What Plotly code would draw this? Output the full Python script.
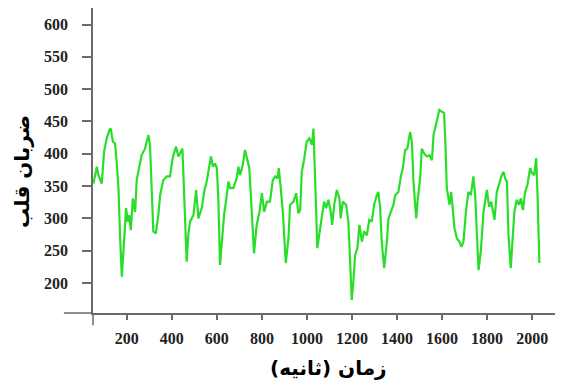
import plotly.graph_objects as go

time_s = [52, 67, 74, 89, 99, 111, 123, 129, 138, 148, 155, 163, 170, 178, 185, 197, 204, 211, 218, 227,
          237, 244, 251, 266, 281, 296, 303, 311, 318, 329, 340, 348, 362, 378, 392, 400, 407, 419, 429, 437,
          447, 451, 459, 466, 473, 481, 496, 508, 518, 533, 545, 555, 562, 574, 582, 592, 600, 607, 614, 622,
          632, 644, 651, 659, 673, 688, 696, 703, 715, 725, 733, 744, 755, 765, 777, 789, 800, 810, 822, 836,
          848, 859, 869, 875, 881, 893, 906, 918, 925, 940, 952, 962, 970, 977, 987, 999, 1011, 1022, 1029, 1035,
          1041, 1046, 1055, 1066, 1076, 1085, 1095, 1106, 1112, 1121, 1133, 1144, 1150, 1159, 1174, 1184, 1192, 1199, 1206, 1214,
          1224, 1233, 1244, 1254, 1266, 1277, 1288, 1298, 1310, 1317, 1325, 1332, 1343, 1355, 1362, 1372, 1384, 1392, 1406, 1417,
          1426, 1436, 1446, 1458, 1466, 1473, 1485, 1491, 1503, 1510, 1520, 1532, 1544, 1555, 1562, 1569, 1579, 1588, 1599, 1609,
          1615, 1621, 1633, 1640, 1646, 1655, 1666, 1677, 1686, 1695, 1706, 1717, 1728, 1739, 1747, 1754, 1762, 1772, 1784, 1799,
          1809, 1818, 1825, 1833, 1843, 1855, 1865, 1873, 1880, 1888, 1895, 1905, 1914, 1921, 1932, 1942, 1950, 1959, 1969, 1979,
          1991, 1999, 2009, 2018, 2024, 2032]

heart_rate = [354, 380, 367, 354, 403, 424, 437, 439, 419, 416, 388, 347, 274, 210, 249, 316, 295, 305, 282, 331,
              310, 359, 372, 398, 408, 429, 414, 336, 280, 277, 305, 336, 359, 365, 365, 385, 398, 411, 396, 401,
              408, 372, 295, 233, 274, 295, 305, 344, 300, 316, 344, 357, 372, 396, 380, 385, 378, 326, 228, 269,
              305, 336, 357, 347, 347, 362, 380, 367, 383, 406, 396, 378, 310, 246, 290, 310, 339, 310, 326, 326,
              359, 365, 362, 378, 357, 310, 231, 269, 321, 326, 339, 308, 313, 372, 390, 419, 424, 414, 439, 388,
              310, 254, 274, 305, 326, 316, 329, 310, 290, 321, 344, 331, 300, 326, 321, 295, 218, 174, 202, 243,
              254, 290, 264, 280, 274, 298, 295, 321, 336, 341, 316, 264, 223, 264, 300, 310, 321, 336, 341, 365,
              378, 406, 408, 434, 419, 357, 300, 326, 364, 408, 401, 396, 398, 390, 429, 439, 452, 468, 465, 463,
              414, 347, 321, 341, 321, 285, 269, 264, 256, 264, 310, 341, 336, 365, 336, 274, 220, 249, 310, 344,
              318, 326, 310, 298, 341, 357, 367, 372, 362, 357, 274, 223, 269, 310, 329, 321, 331, 313, 341, 352,
              378, 370, 367, 393, 336, 231]

y_ticks = [200, 250, 300, 350, 400, 450, 500, 550, 600]
x_ticks = [200, 400, 600, 800, 1000, 1200, 1400, 1600, 1800, 2000]
y_title = "ضربان قلب"
x_title = "زمان (ثانیه)"

axis_color = "#6a6a6a"
tick_font = dict(family="Liberation Serif, Times New Roman, serif", size=16, color="#222222", weight="bold")
title_font = dict(family="DejaVu Sans", size=20, color="#000000", weight="bold")

fig = go.Figure()
fig.add_trace(go.Scatter(x=time_s, y=heart_rate, mode="lines",
                         line=dict(color="rgb(40,222,40)", width=2.2), showlegend=False))

# page body has an 8px default margin, so the figure is 8px smaller and margins are shifted
fig.update_layout(
    width=555, height=378,
    margin=dict(l=85, r=0, t=0, b=73, autoexpand=False),
    paper_bgcolor="white", plot_bgcolor="white",
    xaxis=dict(range=[50, 2137], tickvals=x_ticks, showgrid=False, zeroline=False, automargin=False,
               showline=True, linecolor=axis_color, linewidth=1.5,
               ticks="outside", ticklen=5, tickwidth=1.5, tickcolor=axis_color,
               tickfont=tick_font, ticklabelstandoff=5),
    yaxis=dict(range=[153.7, 625.6], tickvals=y_ticks, showgrid=False, zeroline=False, automargin=False,
               showline=True, linecolor=axis_color, linewidth=1.5,
               ticks="outside", ticklen=9, tickwidth=1.5, tickcolor=axis_color,
               tickfont=tick_font, ticklabelstandoff=11),
    annotations=[
        dict(text=y_title, xref="paper", yref="paper", x=-0.151, y=0.462,
             xanchor="center", yanchor="middle", textangle=-90, showarrow=False, font=title_font),
        dict(text=x_title, xref="paper", yref="paper", x=0.5, y=-0.18,
             xanchor="center", yanchor="middle", showarrow=False, font=title_font),
    ],
    shapes=[
        dict(type="line", xref="paper", yref="paper", x0=-0.062, x1=0, y0=0, y1=0,
             line=dict(color=axis_color, width=1.5)),
        dict(type="line", xref="paper", yref="paper", x0=0, x1=0, y0=-0.04, y1=0,
             line=dict(color=axis_color, width=1.5)),
    ],
)

fig.write_html("out.html")
